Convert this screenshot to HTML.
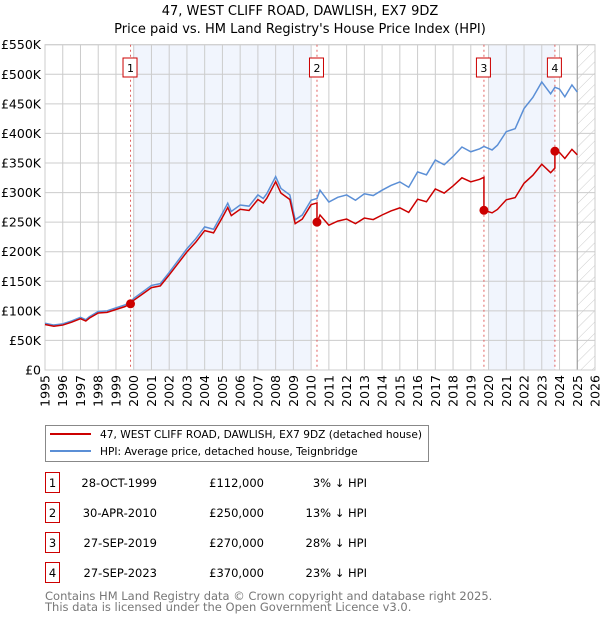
<!DOCTYPE html>
<html><head><meta charset="utf-8"><style>
body{margin:0;background:#fff;font-family:"DejaVu Sans","Liberation Sans",sans-serif;}
svg text{font-family:"DejaVu Sans","Liberation Sans",sans-serif;}
</style></head><body>
<svg id="chart" width="600" height="620" xmlns="http://www.w3.org/2000/svg">
<text x="300" y="15" text-anchor="middle" font-size="13">47, WEST CLIFF ROAD, DAWLISH, EX7 9DZ</text>
<text x="300" y="33" text-anchor="middle" font-size="13">Price paid vs. HM Land Registry's House Price Index (HPI)</text>
<g id="plot"></g>
<g>
<rect x="45.5" y="425.5" width="383" height="36" fill="#fff" stroke="#888"/>
<line x1="50" y1="434" x2="91" y2="434" stroke="#cc0000" stroke-width="2"/>
<text x="100" y="438" font-size="10.6">47, WEST CLIFF ROAD, DAWLISH, EX7 9DZ (detached house)</text>
<line x1="50" y1="451" x2="91" y2="451" stroke="#5b8fd6" stroke-width="2"/>
<text x="100" y="455" font-size="10.6">HPI: Average price, detached house, Teignbridge</text>
</g>
<g id="table"></g>
<text x="45" y="600" font-size="11.5" fill="#777">Contains HM Land Registry data © Crown copyright and database right 2025.</text>
<text x="45" y="611" font-size="11.5" fill="#777">This data is licensed under the Open Government Licence v3.0.</text>
</svg>
<script>
const hpiYears=[1995,1995.5,1996,1996.5,1997,1997.3,1997.5,1998,1998.5,1999,1999.5,1999.82,2000,2000.5,2001,2001.5,2002,2002.5,2003,2003.5,2004,2004.5,2005,2005.3,2005.5,2006,2006.5,2007,2007.3,2007.5,2008,2008.3,2008.8,2009.1,2009.5,2010,2010.33,2010.5,2011,2011.5,2012,2012.5,2013,2013.5,2014,2014.5,2015,2015.5,2016,2016.5,2017,2017.5,2018,2018.5,2019,2019.5,2019.74,2020.2,2020.5,2021,2021.5,2022,2022.5,2023,2023.5,2023.74,2024,2024.3,2024.7,2025];
const hpiValues=[79,76,78,83,89,85,90,99,100,105,110,115,121,132,143,146,165,185,205,222,242,238,265,282,268,279,277,296,290,298,327,307,296,254,262,287,290,304,284,292,296,287,298,295,304,312,318,309,335,330,355,347,361,377,369,374,378,372,380,403,408,442,461,487,467,478,475,462,482,470];
const saleYears=[1999.82,2010.33,2019.74,2023.74];
const salePrices=[112,250,270,370];
const saleLabels=["1","2","3","4"];
const saleDates=["28-OCT-1999","30-APR-2010","27-SEP-2019","27-SEP-2023"];
const salePriceText=["£112,000","£250,000","£270,000","£370,000"];
const salePctText=["3% ↓ HPI","13% ↓ HPI","28% ↓ HPI","23% ↓ HPI"];
const yTicks=[0,50,100,150,200,250,300,350,400,450,500,550];
const yTickLabels=["£0","£50K","£100K","£150K","£200K","£250K","£300K","£350K","£400K","£450K","£500K","£550K"];
const xTicks=[1995,1996,1997,1998,1999,2000,2001,2002,2003,2004,2005,2006,2007,2008,2009,2010,2011,2012,2013,2014,2015,2016,2017,2018,2019,2020,2021,2022,2023,2024,2025,2026];

const L=45,R=595,T=44.7,B=370,X0=1995,X1=2026,YMAX=550;
const sx=y=>L+(y-X0)/(X1-X0)*(R-L);
const sy=v=>B-v/YMAX*(B-T);
const NS="http://www.w3.org/2000/svg";
const plot=document.getElementById('plot');
function mk(tag,attrs,parent){const e=document.createElementNS(NS,tag);for(const k in attrs)e.setAttribute(k,attrs[k]);(parent||plot).appendChild(e);return e;}
function hpiAt(t){for(let i=0;i<hpiYears.length-1;i++){if(t>=hpiYears[i]&&t<=hpiYears[i+1]){const f=(t-hpiYears[i])/(hpiYears[i+1]-hpiYears[i]);return hpiValues[i]+f*(hpiValues[i+1]-hpiValues[i]);}}return hpiValues[hpiValues.length-1];}

const b1=mk('rect',{x:sx(2000),y:T,width:sx(2010)-sx(2000),height:B-T,fill:'#eef3fc',opacity:0.8});


const b2=mk('rect',{x:sx(2020),y:T,width:sx(saleYears[3])-sx(2020),height:B-T,fill:'#eef3fc',opacity:0.8});


const defs=mk('defs',{});
const pat=mk('pattern',{id:'hatch',patternUnits:'userSpaceOnUse',width:8,height:8,patternTransform:'rotate(45)'},defs);
mk('line',{x1:0,y1:0,x2:0,y2:8,stroke:'#ccc','stroke-width':1},pat);
const hr=mk('rect',{x:sx(2025),y:T,width:R-sx(2025),height:B-T,fill:'url(#hatch)'});


yTicks.forEach((v,i)=>{
 mk('line',{x1:L,x2:R,y1:sy(v),y2:sy(v),stroke:'#ccc','stroke-width':1});
 const t=mk('text',{x:L-4,y:sy(v)+4.5,'text-anchor':'end','font-size':12.5});
 t.textContent=yTickLabels[i];
 
 
});
xTicks.forEach(y=>{
 mk('line',{x1:sx(y),x2:sx(y),y1:T,y2:B,stroke:'#ccc','stroke-width':1});
 const t=mk('text',{x:0,y:0,'text-anchor':'end','font-size':12.5,transform:`translate(${sx(y)+4.5},${B+5}) rotate(-90)`});
 t.textContent=y;
 
 
});
mk('line',{x1:sx(2025),x2:sx(2025),y1:T,y2:B,stroke:'#999','stroke-width':1});
mk('rect',{x:L,y:T,width:R-L,height:B-T,fill:'none',stroke:'#ccc'});
saleYears.forEach((s,i)=>{
 const ln=mk('line',{x1:sx(s),x2:sx(s),y1:T,y2:B,stroke:'#e06060','stroke-width':1,'stroke-dasharray':'2,3'});
 
 
 const bx=mk('rect',{x:sx(s)-7.5,y:58,width:14,height:19,fill:'#fff',stroke:'#cc0000'});
 
 
 const t=mk('text',{x:sx(s),y:72,'text-anchor':'middle','font-size':11});
 t.textContent=saleLabels[i];
});
const hp=mk('polyline',{fill:'none',stroke:'#5b8fd6','stroke-width':1.5,points:hpiYears.map((y,i)=>sx(y)+','+sy(hpiValues[i])).join(' ')});


const pts=[];
hpiYears.forEach((y,i)=>{
 let k=0;for(let j=0;j<saleYears.length;j++)if(y>=saleYears[j])k=j;
 if(pts.length&&saleYears.some(s=>s>hpiYears[i-1]&&s<=y)){
  saleYears.forEach((s,j)=>{if(s>hpiYears[i-1]&&s<=y&&j>0){pts.push([s,hpiAt(s)*salePrices[j-1]/hpiAt(saleYears[j-1])]);pts.push([s,salePrices[j]]);}});
 }
 pts.push([y,hpiValues[i]*salePrices[k]/hpiAt(saleYears[k])]);
});
const rp=mk('polyline',{fill:'none',stroke:'#cc0000','stroke-width':1.5,points:pts.map(p=>sx(p[0])+','+sy(p[1])).join(' ')});


saleYears.forEach((s,i)=>{
 const c=mk('circle',{cx:sx(s),cy:sy(salePrices[i]),r:4.5,fill:'#cc0000'});
 
 
});
const tb=document.getElementById('table');
saleYears.forEach((s,i)=>{
 const cy=483+i*30;
 mk('rect',{x:45.5,y:cy-10.5,width:14,height:20,fill:'#fff',stroke:'#cc0000'},tb);
 const n=mk('text',{x:52.5,y:cy+4,'text-anchor':'middle','font-size':11.5},tb);n.textContent=saleLabels[i];
 const d=mk('text',{x:157,y:cy+4,'text-anchor':'end','font-size':11.5},tb);d.textContent=saleDates[i];
 
 
 const p=mk('text',{x:264,y:cy+4,'text-anchor':'end','font-size':11.5},tb);p.textContent=salePriceText[i];
 
 
 const q=mk('text',{x:367,y:cy+4,'text-anchor':'end','font-size':11.5},tb);q.textContent=salePctText[i];
 
 
});
</script>
</body></html>
